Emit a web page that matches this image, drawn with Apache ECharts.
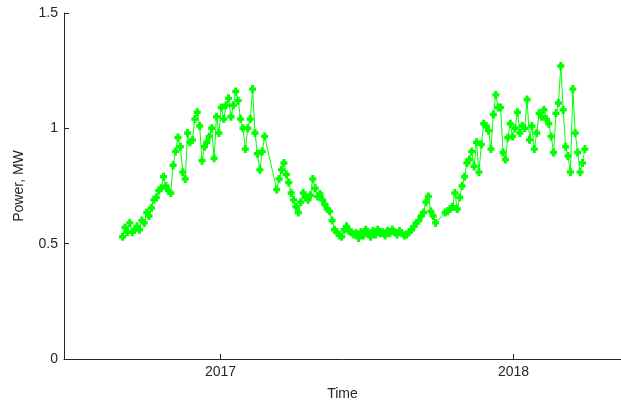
<!DOCTYPE html>
<html>
<head>
    <meta charset="UTF-8">
    <title>power</title>
    <script src="https://cdn.jsdelivr.net/npm/echarts@6/dist/echarts.min.js"></script>
    <style>
        html, body { margin: 0; padding: 0; background: #fff; }
        #main { width: 621px; height: 406px; }
    </style>
</head>
<body>
<div id="main"></div>
<script type="text/javascript">
    // samples every 3 days from startDate, null = missing days
    var startDate = Date.UTC(2016, 8, 1);
    var stepDays = 3;
    var power = [
        0.53, 0.57, 0.55, 0.59, 0.55, 0.56, 0.575, 0.56, 0.60, 0.59,
        0.635, 0.62, 0.655, 0.69, 0.70, 0.73, 0.74, 0.79, 0.75, 0.73,
        0.72, 0.84, 0.90, 0.96, 0.92, 0.81, 0.78, 0.98, 0.94, 0.95,
        1.04, 1.07, 1.01, 0.86, 0.92, 0.94, 0.965, 1.0, 0.87, 1.05,
        0.98, 1.09, 1.04, 1.10, 1.13, 1.05, 1.10, 1.16, 1.12, 1.04,
        1.00, 0.91, 1.0, 1.04, 1.17, 0.98, 0.89, 0.82, 0.90, 0.965,
        null, null, null, null, 0.735, 0.78, 0.82, 0.85, 0.80, 0.765,
        0.72, 0.69, 0.66, 0.635, 0.68, 0.72, 0.70, 0.69, 0.71, 0.78,
        0.74, 0.705, 0.715, 0.69, 0.67, 0.65, 0.64, 0.60, 0.56, 0.55,
        0.535, 0.53, 0.56, 0.575, 0.555, 0.55, 0.54, 0.545, 0.525, 0.55,
        0.535, 0.56, 0.545, 0.53, 0.555, 0.54, 0.56, 0.545, 0.55, 0.535,
        0.555, 0.545, 0.56, 0.55, 0.54, 0.555, 0.545, 0.535, 0.54, 0.55,
        0.56, 0.575, 0.59, 0.60, 0.62, 0.635, 0.68, 0.705, 0.64, 0.62,
        0.59, null, null, null, 0.635, 0.64, 0.65, 0.66, 0.72, 0.65,
        0.70, 0.75, 0.79, 0.85, 0.865, 0.90, 0.835, 0.94, 0.81, 0.93,
        1.02, 1.01, 0.99, 0.91, 1.06, 1.145, 1.09, 1.09, 0.895, 0.865,
        0.96, 1.02, 0.965, 1.0, 1.07, 0.98, 1.01, 1.0, 1.125, 0.95,
        1.01, 0.91, 0.98, 1.065, 1.05, 1.08, 1.04, 1.02, 0.965, 0.895,
        1.065, 1.11, 1.27, 1.08, 0.92, 0.88, 0.81, 1.17, 0.98, 0.895,
        0.81, 0.85, 0.91
    ];
    var yearTicks = [Date.UTC(2017, 0, 1), Date.UTC(2018, 0, 1)];
    var xMin = Date.UTC(2016, 5, 20);
    var xMax = Date.UTC(2018, 4, 15);

    var dayMs = 24 * 3600 * 1000;
    var seriesData = power.map(function (v, i) {
        return [startDate + i * stepDays * dayMs, v];
    });

    var font = "'Liberation Sans', Arial, sans-serif";
    var ink = '#262626';
    // chunky plus, close to the filled marker of the original plot
    var marker = 'path://M2,0 L5,0 L5,2 L7,2 L7,5 L5,5 L5,7 L2,7 L2,5 L0,5 L0,2 L2,2 Z';

    var myChart = echarts.init(document.getElementById('main'));
    var option = {
        animation: false,
        grid: { left: 64, right: 0, top: 13, bottom: 46 },
        xAxis: {
            type: 'value',
            min: xMin,
            max: xMax,
            name: 'Time',
            nameLocation: 'middle',
            nameGap: 28,
            nameTextStyle: { color: ink, fontSize: 14, fontFamily: font },
            axisLine: { lineStyle: { color: ink, width: 1 } },
            axisTick: { inside: true, length: 5, customValues: yearTicks, lineStyle: { color: ink } },
            axisLabel: {
                customValues: yearTicks,
                margin: 6,
                color: ink,
                fontSize: 14,
                fontFamily: font,
                formatter: function (v) { return new Date(v).getUTCFullYear() + ''; }
            },
            splitLine: { show: false }
        },
        yAxis: {
            type: 'value',
            min: 0,
            max: 1.5,
            interval: 0.5,
            name: 'Power, MW',
            nameLocation: 'middle',
            nameGap: 38,
            nameTextStyle: { color: ink, fontSize: 14, fontFamily: font },
            axisLine: { show: true, lineStyle: { color: ink, width: 1 } },
            axisTick: { show: true, inside: true, length: 5, lineStyle: { color: ink } },
            axisLabel: { margin: 6, color: ink, fontSize: 14, fontFamily: font },
            splitLine: { show: false }
        },
        series: [
            {
                type: 'line',
                data: seriesData,
                connectNulls: true,
                symbol: marker,
                symbolSize: [7, 8],
                showAllSymbol: true,
                itemStyle: { color: '#00ff00' },
                lineStyle: { color: '#00ff00', width: 1 }
            }
        ]
    };
    myChart.setOption(option);
</script>
</body>
</html>
